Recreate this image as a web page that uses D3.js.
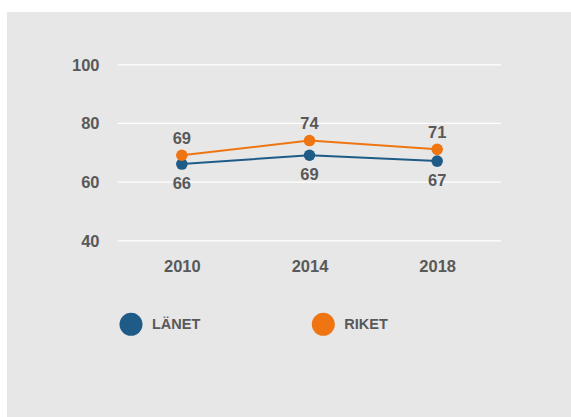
<!DOCTYPE html>
<html>
<head>
<meta charset="utf-8">
<script src="https://cdn.jsdelivr.net/npm/d3@7"></script>
<style>
  body { margin: 0; background: #fff; }
  svg text { font-family: "Liberation Sans", Arial, sans-serif; font-weight: bold; fill: #595959; }
</style>
</head>
<body>
<svg id="chart"></svg>
<script>
// data
const years = ["2010", "2014", "2018"];
const lanet = [66, 69, 67];
const riket = [69, 74, 71];
const yTicks = [40, 60, 80, 100];
const seriesNames = ["LÄNET", "RIKET"];
const colors = ["#1f5b87", "#ef7512"];

const width = 571, height = 417;
const margin = {left: 118, right: 501, top: 64.3, bottom: 240.3};
const fontSize = 16.5;

const svg = d3.select('#chart')
    .attr('width', width)
    .attr('height', height);

svg.append('rect')
    .attr('x', 7).attr('y', 12)
    .attr('width', width - 7).attr('height', height - 12)
    .attr('fill', '#e7e7e7');

const xscale = d3.scalePoint()
    .domain(years)
    .range([margin.left, margin.right])
    .padding(0.5);

const yscale = d3.scaleLinear()
    .domain([40, 100])
    .range([margin.bottom, margin.top]);

// gridlines + y labels
const yaxis = d3.axisLeft(yscale)
    .tickValues(yTicks)
    .tickSize(-(margin.right - margin.left))
    .tickPadding(18.5);

const ygroup = svg.append('g')
    .attr('transform', `translate(${margin.left},0)`)
    .call(yaxis);
ygroup.select('.domain').remove();
ygroup.selectAll('line').attr('stroke', '#ffffff').attr('stroke-width', 1.2);
ygroup.selectAll('text')
    .attr('font-size', fontSize)
    .attr('dy', '0.36em');

// x labels
const xaxis = d3.axisBottom(xscale)
    .tickSize(0)
    .tickPadding(19.5);

const xgroup = svg.append('g')
    .attr('transform', `translate(0,${margin.bottom})`)
    .call(xaxis);
xgroup.select('.domain').remove();
xgroup.selectAll('text').attr('font-size', fontSize);
svg.selectAll('g').filter(function() { return this.hasAttribute('font-family'); })
    .attr('font-family', null).attr('font-size', null);

const series = [
    { name: seriesNames[0], values: lanet, color: colors[0], labelDy: 24.5 },
    { name: seriesNames[1], values: riket, color: colors[1], labelDy: -11.5 }
];

const line = d3.line()
    .x((d, i) => xscale(years[i]))
    .y(d => yscale(d));

series.forEach(s => {
    const g = svg.append('g');
    g.append('path')
        .datum(s.values)
        .attr('d', line)
        .attr('fill', 'none')
        .attr('stroke', s.color)
        .attr('stroke-width', 2);
    g.selectAll('circle')
        .data(s.values)
        .join('circle')
        .attr('cx', (d, i) => xscale(years[i]))
        .attr('cy', d => yscale(d))
        .attr('r', 5.8)
        .attr('fill', s.color);
    g.selectAll('text')
        .data(s.values)
        .join('text')
        .attr('x', (d, i) => xscale(years[i]))
        .attr('y', d => yscale(d) + s.labelDy)
        .attr('text-anchor', 'middle')
        .attr('font-size', fontSize)
        .text(d => d);
});

// legend
const legend = svg.append('g')
    .attr('transform', 'translate(131,324.3)');
const items = legend.selectAll('g')
    .data(series)
    .join('g')
    .attr('transform', (d, i) => `translate(${i * 192.3},0)`);
items.append('circle')
    .attr('r', 11.5)
    .attr('fill', d => d.color);
items.append('text')
    .attr('x', 21)
    .attr('y', 4.5)
    .attr('font-size', 14.5)
    .text(d => d.name);
</script>
</body>
</html>
